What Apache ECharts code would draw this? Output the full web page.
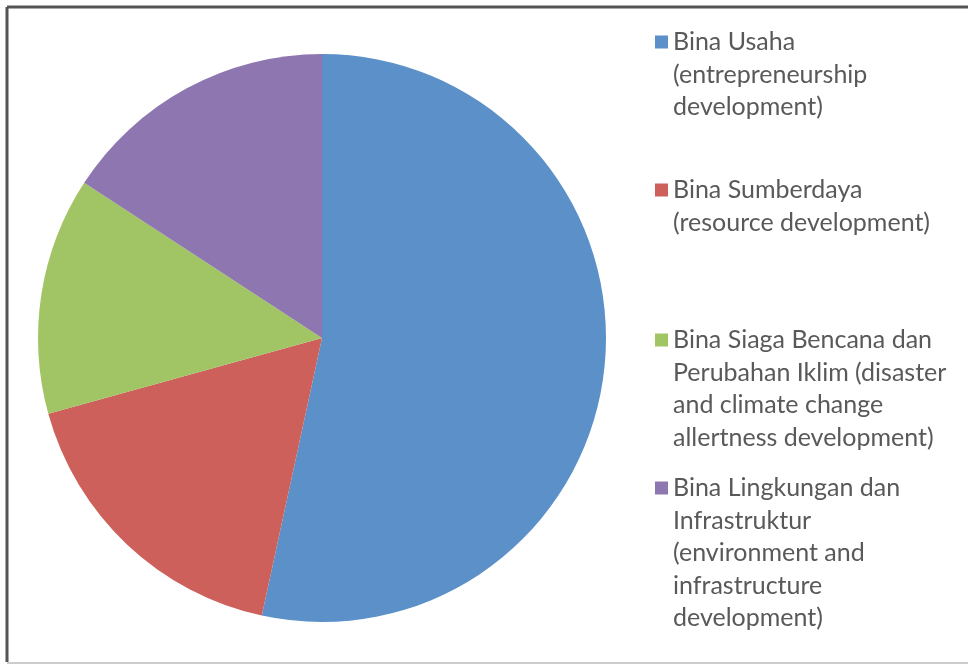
<!DOCTYPE html>
<html>
<head>
<meta charset="utf-8">
<script src="https://cdn.jsdelivr.net/npm/echarts@6/dist/echarts.min.js"></script>
<style>
    html, body { margin: 0; padding: 0; background: #fff; }
    #main { width: 968px; height: 666px; }
</style>
</head>
<body>
<div id="main"></div>
<script>
// pie values (share in %)
var names = [
    'Bina Usaha\n(entrepreneurship\ndevelopment)',
    'Bina Sumberdaya\n(resource development)',
    'Bina Siaga Bencana dan\nPerubahan Iklim (disaster\nand climate change\nallertness development)',
    'Bina Lingkungan dan\nInfrastruktur\n(environment and\ninfrastructure\ndevelopment)'
];
var values = [53.4, 17.3, 13.5, 15.8];
var colors = ['#5b90c8', '#cd605b', '#a1c465', '#8e76b0'];

// centre y of the first legend line of each item
var legendTops = [42, 190, 340, 488];

var LH = 32.5;

var chart = {};

chart.lines = function(name) {
    return name.split('\n').length;
};

chart.makeLegends = function() {
    var list = [];
    for (var i = 0; i < names.length; i++) {
        var n = chart.lines(names[i]);
        // icon sits in the middle of the text block, so blank lines go on top
        // to bring the icon level with the first line
        list.push({
            data: [names[i]],
            orient: 'vertical',
            left: 655,
            top: legendTops[i] - LH / 2 - (n - 1) * LH,
            padding: 0,
            itemWidth: 13,
            itemHeight: 13,
            itemGap: 0,
            icon: 'rect',
            selectedMode: false,
            formatter: function(name) {
                var k = chart.lines(name) - 1;
                var pre = '';
                for (var j = 0; j < k; j++) pre += ' \n';
                return pre + name;
            },
            textStyle: {
                fontFamily: 'Lato',
                fontSize: 25,
                color: '#595959',
                lineHeight: LH
            }
        });
    }
    return list;
};

chart.init = function() {
    var el = document.getElementById('main');
    var c = echarts.init(el);
    var data = [];
    for (var i = 0; i < names.length; i++) {
        data.push({ name: names[i], value: values[i], itemStyle: { color: colors[i] } });
    }
    c.setOption({
        animation: false,
        backgroundColor: '#fff',
        legend: chart.makeLegends(),
        graphic: [
            { type: 'line', shape: { x1: 7, y1: 7, x2: 968, y2: 7 }, style: { stroke: '#555', lineWidth: 3 } },
            { type: 'line', shape: { x1: 7, y1: 7, x2: 7, y2: 662 }, style: { stroke: '#555', lineWidth: 3 } },
            { type: 'line', shape: { x1: 7, y1: 663, x2: 968, y2: 663 }, style: { stroke: '#ccc', lineWidth: 2 } }
        ],
        series: [{
            type: 'pie',
            center: [322, 338],
            radius: 284,
            startAngle: 90,
            clockwise: true,
            label: { show: false },
            labelLine: { show: false },
            itemStyle: { borderWidth: 0 },
            emphasis: { disabled: true },
            data: data
        }]
    });
};

chart.init();
</script>
</body>
</html>
